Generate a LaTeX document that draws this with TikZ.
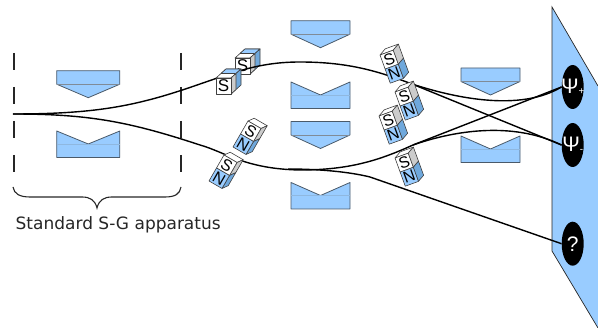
\documentclass[tikz,border=0pt]{standalone}
\usepackage{fontspec}
\setmainfont{DejaVu Sans}
\newfontfamily\labelfont{Liberation Sans}
\definecolor{plate}{HTML}{99CCFF}
\definecolor{plateedge}{HTML}{4A5A6A}
\definecolor{platemid}{HTML}{8FB8E0}
\definecolor{sideblue}{HTML}{6FA8DC}
\definecolor{sidegray}{HTML}{CCCCCC}
\usetikzlibrary{shapes.geometric}
\tikzset{
  x=1pt,y=1pt,
  beam/.style={line width=1.4pt,black},
  face/.style={draw=black!75,line width=0.6pt,line join=round},
  spot/.style={ellipse,fill=black,minimum width=22pt,minimum height=44pt,inner sep=0pt,text=white,font=\labelfont\fontsize{21}{21}\selectfont},
  guide/.style={line width=1.2pt,black!85,dash pattern=on 17pt off 17pt},
  platedown/.pic={
    \path[fill=plate,draw=plateedge,line width=0.8pt,line join=round] (0,0)--(59,0)--(59,-13.5)--(29.5,-27)--(0,-13.5)--cycle;
    \draw[plateedge!70,line width=0.8pt] (0,-13.5)--(59,-13.5);
  },
  plateup/.pic={
    \path[fill=plate,draw=plateedge,line width=0.8pt,line join=round] (0,0)--(29.5,-13)--(59,0)--(59,-26.5)--(0,-26.5)--cycle;
    \draw[platemid,line width=0.7pt] (0,-13)--(59,-13);
  },
  cubemag/.pic={
    \path[face,fill=white] (0,0)--(10,9)--(25,9)--(15,0)--cycle;
    \path[face,fill=plate] (5,4.5)--(10,9)--(25,9)--(20,4.5)--cycle;
    \path[face,fill=sideblue] (15,0)--(25,9)--(25,-7)--(15,-16)--cycle;
    \path[face,fill=sidegray] (15,0)--(20,4.5)--(20,-11.5)--(15,-16)--cycle;
    \path[face,fill=white] (0,0) rectangle (15,-16);
    \node[font=\labelfont\fontsize{17}{17}\selectfont,inner sep=0pt] (-s) at (7.5,-8) {S};
  },
  barmag/.pic={
    \path[face,fill=white] (0,0)--(7,4)--(21,4)--(14,0)--cycle;
    \path[face,fill=sidegray] (14,0)--(21,4)--(21,-11)--(14,-15)--cycle;
    \path[face,fill=sideblue] (14,-15)--(21,-11)--(21,-26)--(14,-30)--cycle;
    \path[face,fill=white] (0,0) rectangle (14,-15);
    \path[face,fill=plate] (0,-15) rectangle (14,-30);
    \node[font=\labelfont\fontsize{16}{16}\selectfont,inner sep=0pt,transform shape] (-s) at (7,-7.5) {S};
    \node[font=\labelfont\fontsize{16}{16}\selectfont,inner sep=0pt,transform shape] (-n) at (7,-22.5) {N};
  },
  leftmag/.pic={
    \path[face,fill=white] (0,0)--(4,5.5)--(19,5.5)--(15,0)--cycle;
    \path[face,fill=sidegray] (15,0)--(19,5.5)--(19,-9.5)--(15,-15)--cycle;
    \path[face,fill=sideblue] (15,-15)--(19,-9.5)--(19,-24.5)--(15,-30)--cycle;
    \path[face,fill=white] (0,0) rectangle (15,-15);
    \path[face,fill=plate] (0,-15) rectangle (15,-30);
    \node[font=\labelfont\fontsize{16}{16}\selectfont,inner sep=0pt,transform shape] (-s) at (7.5,-7.5) {S};
    \node[font=\labelfont\fontsize{16}{16}\selectfont,inner sep=0pt,transform shape] (-n) at (7.5,-22.5) {N};
  }
}
\begin{document}
\begin{tikzpicture}
\useasboundingbox (0,0) rectangle (598,-328);
% screen
\path[fill=plate] (552,-7)--(598,-86)--(598,-328)--(552,-251)--cycle;
\draw[black!85,line width=0.7pt] (598,-86)--(552,-7)--(552,-251)--(598,-328);
\node[spot] (psip) at (572.7,-87) {\makebox[0pt]{Ψ\raisebox{-0.5pt}{\fontsize{10}{10}\selectfont +}}};
\node[spot] (psim) at (572.7,-145) {\makebox[0pt]{Ψ\raisebox{-0.5pt}{\fontsize{10}{10}\selectfont -}}};
\node[spot] (qq) at (572.7,-243.7) {\makebox[0pt]{?}};
% plates
\pic[xscale=1.07] (p1) at (56.7,-70.7) {platedown};
\pic[xscale=1.07] (p2) at (56.7,-131) {plateup};
\pic (p3) at (291,-20.7) {platedown};
\pic (p4) at (291,-82) {plateup};
\pic (p5) at (291,-121.5) {platedown};
\pic (p6) at (291,-182.5) {plateup};
\pic (p7) at (461,-68) {platedown};
\pic (p8) at (461,-136) {plateup};
% apparatus frame
\coordinate (fl1) at (14,-53); \coordinate (fl2) at (14,-173);
\coordinate (fr1) at (181,-53); \coordinate (fr2) at (181,-173);
\draw[guide] (fl1)--(fl2);
\draw[guide] (fr1)--(fr2);
% magnet behind the beam
\pic (c2) at (235,-58) {cubemag};
% beams
\coordinate (src) at (13,-114);
\coordinate (upsplit) at (412,-84);
\coordinate (lowsplit) at (413,-145);
\coordinate (branch) at (288,-169);
\coordinate (bend) at (370,-177);
\draw[beam] (src) .. controls (100,-114) and (140,-105) .. (200,-84)
  .. controls (235,-72) and (260,-62) .. (300,-62)
  .. controls (350,-62) and (380,-72) .. (upsplit);
\draw[beam] (src) .. controls (90,-114) and (130,-122) .. (200,-145)
  .. controls (225,-152) and (245,-169) .. (300,-170)
  .. controls (350,-170) and (380,-160) .. (lowsplit);
\draw[beam] (upsplit) .. controls (455,-98) and (520,-112) .. (psip.west);
\draw[beam] (upsplit) -- (psim.west);
\draw[beam] (lowsplit) -- (psip.west);
\draw[beam] (lowsplit) .. controls (450,-132) and (510,-120) .. (psim.west);
\draw[beam] (branch) .. controls (320,-169) and (350,-172) .. (bend) -- (qq.west);
% magnets in front of the beam
\pic (c1) at (216,-78) {cubemag};
\pic[rotate=-30] (l1) at (248,-121) {leftmag};
\pic[rotate=-30] (l2) at (224,-155) {leftmag};
\pic[rotate=20] (r1) at (380,-55) {barmag};
\pic[rotate=20] (r2) at (395,-92) {barmag};
\pic[rotate=20] (r3) at (379,-116) {barmag};
\pic[rotate=20] (r4) at (395,-158) {barmag};
% brace
\coordinate (bl) at (13,-187); \coordinate (br) at (181,-187); \coordinate (bt) at (97,-208);
\draw[line width=1.1pt,black!85] (bl) .. controls (14,-194) and (20,-197) .. (30,-197)
  -- (82,-197) .. controls (90,-197) and (95,-200) .. (bt)
  .. controls (99,-200) and (104,-197) .. (112,-197)
  -- (165,-197) .. controls (175,-197) and (180,-194) .. (br);
\node[anchor=base west,inner sep=0pt,font=\fontsize{17}{19}\selectfont,text=black!85] (cap) at (15.5,-230) {Standard S-G apparatus};
\end{tikzpicture}
\end{document}
